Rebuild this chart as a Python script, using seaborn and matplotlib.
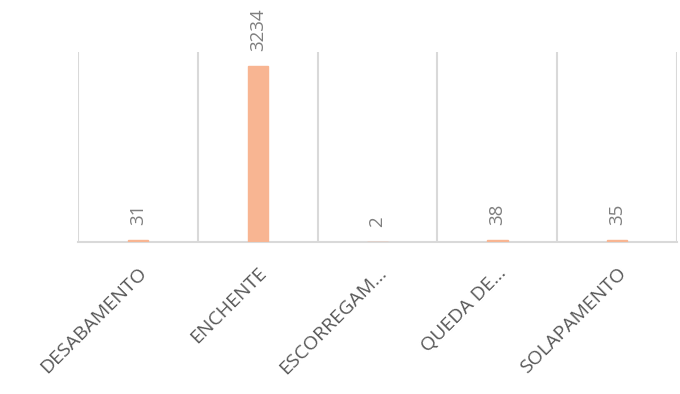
import matplotlib
matplotlib.use("Agg")
import matplotlib.pyplot as plt
import numpy as np
import pandas as pd
import seaborn as sns

categories = ["DESABAMENTO", "ENCHENTE", "ESCORREGAM…", "QUEDA DE…", "SOLAPAMENTO"]
values = [31, 3234, 2, 38, 35]

BAR_COLOR = "#F8B592"
GRID_COLOR = "#D9D9D9"
TEXT_COLOR = "#595959"

sns.set_theme(style="white")
plt.rcParams["font.family"] = ["Open Sans", "DejaVu Sans"]

df = pd.DataFrame({"cat": categories, "val": values})

fig = plt.figure(figsize=(6.8, 3.94), dpi=100)
ax = fig.add_axes([0.1147, 0.3858, 0.881, 0.4822])

sns.barplot(data=df, x="cat", y="val", color=BAR_COLOR, width=0.17,
            saturation=1, edgecolor=BAR_COLOR, linewidth=1, ax=ax)
for p in ax.patches:
    p.set_zorder(4)

ax.set_xlim(-0.5, len(categories) - 0.5)
ax.set_ylim(0, 3500)

# category separators
for b in np.arange(-0.5, len(categories), 1.0):
    ax.axvline(b, color=GRID_COLOR, lw=1.5, zorder=0)

for i, v in enumerate(values):
    ax.annotate(str(v), (i, v), xytext=(0, 11), textcoords="offset points",
                rotation=90, ha="center", va="bottom", fontsize=13.5,
                color="#7F7F7F")

for s in ["top", "right", "left"]:
    ax.spines[s].set_visible(False)
ax.spines["bottom"].set_color(GRID_COLOR)
ax.spines["bottom"].set_linewidth(1.5)
ax.spines["bottom"].set_zorder(1)

ax.set_yticks([])
ax.set_xlabel("")
ax.set_ylabel("")
ax.tick_params(axis="x", length=0, pad=16)
ax.set_xticks(range(len(categories)))
ax.set_xticklabels(categories, rotation=45, ha="right", rotation_mode="anchor",
                   fontsize=14, color=TEXT_COLOR)

fig.savefig("out.png", dpi=100)
